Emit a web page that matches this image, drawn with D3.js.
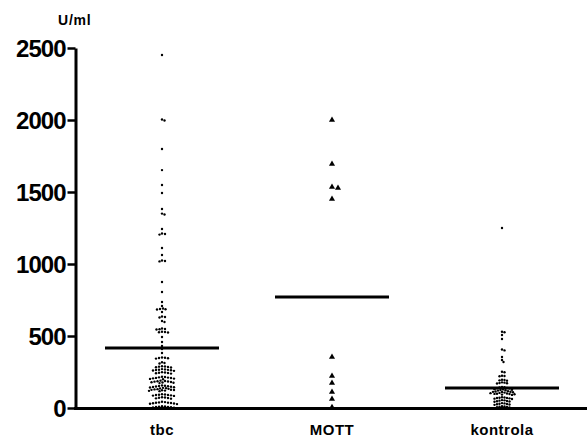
<!DOCTYPE html>
<html>
<head>
<meta charset="utf-8">
<script src="https://cdn.jsdelivr.net/npm/d3@7"></script>
<style>
  html, body { margin: 0; padding: 0; background: #fff; }
  svg { display: block; }
</style>
</head>
<body>
<div id="chart"></div>
<script>
// Scatter dot plot, U/ml per group, with mean bars
const categories = ["tbc", "MOTT", "kontrola"];
const yTicks = [0, 500, 1000, 1500, 2000, 2500];

const tbcValues = [
  2451, 2003, 1997, 1799, 1652, 1549, 1493, 1382, 1350, 1344, 1243, 1212, 1208, 1204,
  1111, 1063, 1024, 1021, 1018, 875, 806, 736, 708, 691, 688, 686, 684, 667, 635, 632,
  628, 604, 597, 552, 549, 547, 545, 530, 528, 526, 524, 493, 458, 431, 410, 382,
  347, 349, 345, 351, 343,
  318, 313, 309,
  288, 285, 283, 287, 281, 290,
  266, 264, 262, 268, 260, 270, 258, 265,
  245, 243, 241, 247, 239, 249,
  211, 208, 206, 213, 204, 215, 202, 209, 200, 217,
  184, 181, 179, 186, 177, 188, 175, 183, 173, 190,
  149, 146, 144, 151, 142, 153, 140, 148, 138, 155, 136, 157,
  127, 125, 123, 129, 121, 131, 119, 126, 117, 133,
  92, 90, 88, 94, 86, 96, 84, 91,
  71, 69, 67, 73, 65, 75,
  37, 35, 33, 39, 31, 41, 29, 36, 27, 43,
  9, 7, 5, 11, 3, 13, 2, 8
];
const mottValues = [2000, 1694, 1535, 1528, 1451, 354, 222, 174, 111, 63, 5];
const kontrolaValues = [
  1250, 530, 526, 507, 479, 406, 400, 354, 333, 319,
  252, 248, 224, 222, 220, 196, 194, 192, 190, 176, 174, 172, 178, 170,
  142, 140, 138, 144, 136, 146,
  127, 125, 123, 129, 121, 131,
  113, 111, 109, 115, 107, 117, 105, 112,
  99, 97, 95, 101, 93, 103, 91, 98,
  71, 69, 67, 73, 65, 75, 63, 70,
  51, 49, 47, 53, 45, 55, 43,
  30, 28, 26, 32, 24, 34, 22,
  9, 7, 5, 11, 3, 13
];
const means = [417, 771, 139];

const groups = [tbcValues, mottValues, kontrolaValues];

const width = 587;
const height = 439;

const svg = d3.select("#chart")
  .append("svg")
  .attr("width", width)
  .attr("height", height);

const x = d3.scaleBand().domain(categories).range([77, 587]).padding(0);
const y = d3.scaleLinear().domain([0, 2500]).range([408, 48]);
const cx = (c) => x(c) + x.bandwidth() / 2;

// --- Axes ---
const yAxis = svg.append("g")
  .attr("transform", "translate(75.5,0)")
  .call(d3.axisLeft(y).tickValues(yTicks).tickSize(8).tickSizeOuter(0).tickPadding(2).tickFormat(d3.format("d")));
yAxis.select(".domain").attr("stroke", "#000").attr("stroke-width", 3);
yAxis.selectAll(".tick line").attr("stroke", "#000").attr("stroke-width", 2.5);
yAxis.selectAll(".tick text")
  .attr("fill", "#000")
  .attr("font-family", "'Liberation Sans', Arial, sans-serif")
  .attr("font-weight", "bold")
  .attr("font-size", "24px")
  .attr("letter-spacing", "-1px")
  .attr("dy", "0.36em");

svg.append("line")
  .attr("x1", 74).attr("x2", 587)
  .attr("y1", y(0) + 0.5).attr("y2", y(0) + 0.5)
  .attr("stroke", "#000").attr("stroke-width", 3);

const xAxis = svg.append("g")
  .attr("transform", `translate(0,${y(0)})`)
  .call(d3.axisBottom(x).tickSize(0));
xAxis.select(".domain").remove();
xAxis.selectAll(".tick text")
  .attr("fill", "#000")
  .attr("font-family", "'Liberation Sans', Arial, sans-serif")
  .attr("font-weight", "bold")
  .attr("font-size", "15px")
  .attr("letter-spacing", "0.5px")
  .attr("y", 27)
  .attr("dy", 0);

svg.append("text")
  .attr("x", 58).attr("y", 25)
  .attr("font-family", "'Liberation Sans', Arial, sans-serif")
  .attr("font-weight", "bold")
  .attr("font-size", "14px")
  .attr("letter-spacing", "0.8px")
  .text("U/ml");

// --- Beeswarm layout (deterministic) ---
function swarm(values, minDist) {
  const placed = [];
  const sorted = values.slice().sort((a, b) => b - a);
  for (const v of sorted) {
    const py = y(v);
    let off = 0;
    for (let k = 0; k < 200; k++) {
      const cand = k === 0 ? 0 : (k % 2 ? 1 : -1) * Math.ceil(k / 2) * 0.5;
      const hit = placed.some((p) => {
        const dx = p.dx - cand, dy = p.py - py;
        return dx * dx + dy * dy < minDist * minDist;
      });
      if (!hit) { off = cand; break; }
    }
    placed.push({ v, py, dx: off });
  }
  return placed;
}

const markR = [1.2, 2.3, 1.2];
const spacing = [2.6, 6, 2.5];

groups.forEach((vals, i) => {
  const c = categories[i];
  const pts = swarm(vals, spacing[i]);
  const g = svg.append("g").attr("class", "dots-" + c);
  if (c === "MOTT") {
    g.selectAll("path")
      .data(pts)
      .join("path")
      .attr("d", d3.symbol(d3.symbolTriangle, 16))
      .attr("transform", (d) => `translate(${cx(c) + d.dx},${d.py})`)
      .attr("fill", "#000");
  } else {
    g.selectAll("circle")
      .data(pts)
      .join("circle")
      .attr("cx", (d) => cx(c) + d.dx)
      .attr("cy", (d) => d.py)
      .attr("r", markR[i])
      .attr("fill", "#000");
  }
});

// --- Mean bars ---
svg.append("g")
  .selectAll("line")
  .data(means)
  .join("line")
  .attr("x1", (d, i) => cx(categories[i]) - 57)
  .attr("x2", (d, i) => cx(categories[i]) + 57)
  .attr("y1", (d) => y(d))
  .attr("y2", (d) => y(d))
  .attr("stroke", "#000")
  .attr("stroke-width", 3);
</script>
</body>
</html>
